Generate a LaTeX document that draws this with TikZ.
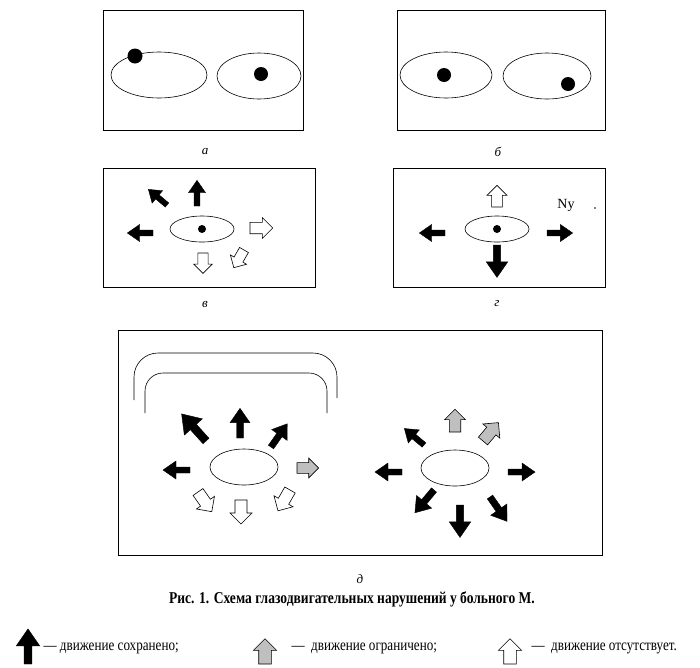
\documentclass[tikz,border=0pt]{standalone}
\usepackage{fontspec}
\setmainfont{Liberation Serif}
\newfontfamily\cond{Liberation Serif}[FakeStretch=0.82]
\begin{document}
\begin{tikzpicture}[x=1pt,y=-1pt,
  narrow/.pic={\path[pic actions] (0,-3)--(14,-3)--(14,-9)--(27,0)--(14,9)--(14,3)--(0,3)--cycle;},
  wide/.pic={\path[pic actions] (0,-6)--(13,-6)--(13,-11)--(24,0)--(13,11)--(13,6)--(0,6)--cycle;},
  solid/.style={fill=black,draw=black,line width=0.4pt},
  grayf/.style={fill=black!25,draw=black,line width=0.6pt},
  openf/.style={fill=white,draw=black,line width=0.6pt},
  box/.style={draw,line width=0.7pt},
  eye/.style={draw,line width=0.6pt},
  lbl/.style={font=\itshape\fontsize{13}{13}\selectfont}]
\useasboundingbox (0,0) rectangle (700,667);
% a
\draw[box] (103,10) rectangle (303,130);
\draw[eye] (159,75) ellipse (48 and 23);
\draw[eye] (259,76) ellipse (42 and 23);
\fill (135,56) circle (7.5);
\fill (261,74) circle (7);
\node[lbl] (la) at (205,152) {а};
% b
\draw[box] (397,10) rectangle (605,130);
\draw[eye] (446,75) ellipse (46 and 23);
\draw[eye] (547,76) ellipse (44 and 23);
\fill (444,75) circle (7);
\fill (568,84) circle (7);
\node[lbl] (lb) at (498,152) {б};
% v
\draw[box] (103,168) rectangle (315,287);
\draw[eye] (202,229) ellipse (32 and 13);
\fill (202,229) circle (4);
\pic[solid,rotate=90,scale=.95] at (197,206) {narrow};
\pic[solid,rotate=140,scale=.9] at (167,205) {narrow};
\pic[solid,rotate=180,scale=.95] at (153,233) {narrow};
\pic[openf,rotate=0,scale=.95] at (250,228) {wide};
\pic[openf,rotate=-90,scale=.85] at (203,253) {wide};
\pic[openf,rotate=-120,scale=.85] at (244,250) {wide};
\node[lbl] (lv) at (205,304) {в};
% g
\draw[box] (393,168) rectangle (605,287);
\draw[eye] (497,229) ellipse (32 and 13);
\fill (497,229) circle (4);
\pic[openf,rotate=90,scale=.9] at (497,207) {wide};
\pic[solid,rotate=180,scale=.95] at (445,233) {narrow};
\pic[solid,rotate=0,scale=.95] at (547,233) {narrow};
\pic[solid,rotate=-90,scale=1.2] at (497,245) {narrow};
\node[font=\fontsize{14}{14}\selectfont] (ny) at (566,205) {Ny};
\fill (595,208) circle (0.8);
\node[lbl] (lg) at (497,304) {г};
% d
\draw[box] (118,330) rectangle (602,555);
\draw[line width=0.6pt,rounded corners=24] (134,400)--(134,353)--(337,353)--(337,398);
\draw[line width=0.6pt,rounded corners=18] (145,413)--(145,373)--(327,373)--(327,413);
\draw[eye] (244,467) ellipse (34 and 18);
\pic[solid,rotate=132,scale=1.35] at (206,441) {narrow};
\pic[solid,rotate=90,scale=1.1] at (240,438) {narrow};
\pic[solid,rotate=55,scale=1.05] at (271,447) {narrow};
\pic[solid,rotate=180,scale=1.0] at (190,470) {narrow};
\pic[grayf,rotate=0,scale=.9] at (297,468) {wide};
\pic[openf,rotate=-55,scale=1.0] at (198,492) {wide};
\pic[openf,rotate=-90,scale=1.0] at (241,500) {wide};
\pic[openf,rotate=-120,scale=1.0] at (290,490) {wide};
\draw[eye] (455,468) ellipse (34 and 18);
\pic[grayf,rotate=90,scale=.95] at (455,432) {wide};
\pic[grayf,rotate=50,scale=1.0] at (483,441) {wide};
\pic[solid,rotate=140,scale=.95] at (424,445) {narrow};
\pic[solid,rotate=180,scale=1.0] at (402,472) {narrow};
\pic[solid,rotate=0,scale=1.0] at (508,472) {narrow};
\pic[solid,rotate=-130,scale=1.1] at (434,490) {narrow};
\pic[solid,rotate=-90,scale=1.2] at (460,505) {narrow};
\pic[solid,rotate=-55,scale=1.1] at (490,497) {narrow};
\node[lbl] (ld) at (360,579) {д};
\node[font=\cond\bfseries\fontsize{16.5}{17}\selectfont] (cap) at (352,599) {Рис. 1. Схема глазодвигательных нарушений у больного М.};
% legend
\pic[solid,rotate=90,scale=1.3] at (28,664) {narrow};
\node[anchor=west,font=\cond\fontsize{16}{16}\selectfont] (t1) at (40,648) {— движение сохранено;};
\pic[grayf,rotate=90,scale=1.05] at (265,664) {wide};
\node[anchor=west,font=\cond\fontsize{16}{16}\selectfont] (t2) at (288,648) {—\ \ движение ограничено;};
\pic[openf,rotate=90,scale=1.05] at (510,664) {wide};
\node[anchor=west,font=\cond\fontsize{16}{16}\selectfont] (t3) at (528,648) {—\ \ движение отсутствует.};
\end{tikzpicture}
\end{document}
